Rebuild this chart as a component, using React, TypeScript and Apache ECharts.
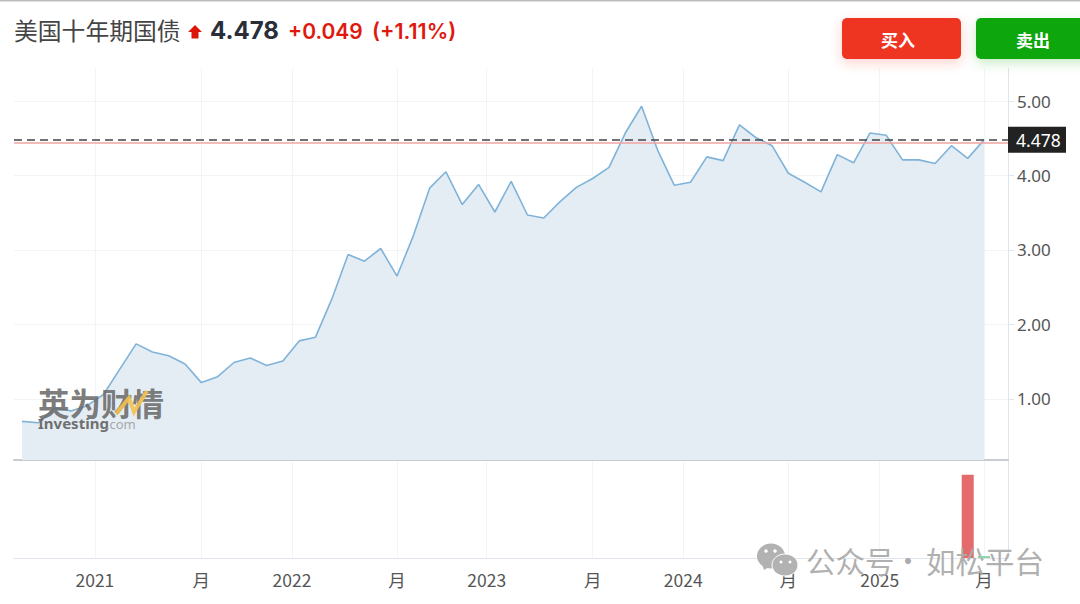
import React, { useEffect, useRef } from "react";
import * as echarts from "echarts";

const monthlyYields = [
  0.7, 0.68, 0.88, 0.84, 0.91, 1.06, 1.4, 1.74, 1.63, 1.58, 1.47, 1.22,
  1.3, 1.49, 1.55, 1.45, 1.51, 1.78, 1.83, 2.34, 2.94, 2.85, 3.02, 2.65,
  3.19, 3.83, 4.05, 3.61, 3.88, 3.51, 3.92, 3.47, 3.43, 3.65, 3.84, 3.96,
  4.11, 4.57, 4.93, 4.33, 3.87, 3.91, 4.25, 4.2, 4.68, 4.51, 4.4, 4.03,
  3.91, 3.78, 4.28, 4.17, 4.57, 4.54, 4.21, 4.21, 4.16, 4.4, 4.23, 4.478,
];
const timeTickPositions = [4.47, 11, 16.56, 23, 28.5, 35, 40.55, 47, 52.6, 59];
const timeTickLabels = ["2021", "月", "2022", "月", "2023", "月", "2024", "月", "2025", "月"];
const yieldTicks = [1, 2, 3, 4, 5];
const volumeUp: [number, number][] = [[58, 85]];
const volumeDown: [number, number][] = [[59, 2]];
const currentPrice = 4.478;
const previousClose = 4.44;

const FONT = '"Noto Sans CJK SC", "Noto Sans", sans-serif';
const LATIN = '"Noto Sans", "Noto Sans CJK SC", sans-serif';
const INTER = 'Inter, "Noto Sans", sans-serif';
const X_MIN = -0.49;
const X_MAX = 60.47;

const t = (x: number, y: number, text: string, fontSize: number, fill: string, extra: any = {}) => ({
  type: "text",
  x,
  y,
  z: 50,
  silent: true,
  style: { text, fontSize, fill, fontFamily: FONT, textVerticalAlign: "middle", ...extra },
});

export default function App() {
  const ref = useRef<HTMLDivElement>(null);
  useEffect(() => {
    document.body.style.margin = "0";
    const chart = echarts.init(ref.current!, undefined, { renderer: "svg" });
    const gridLine = { show: true, lineStyle: { color: "#f3f4f6", width: 1 } };
    const xBase = {
      type: "value",
      min: X_MIN,
      max: X_MAX,
      axisTick: { show: false, customValues: timeTickPositions },
      splitLine: gridLine,
    };
    chart.setOption({
      animation: false,
      backgroundColor: "#fff",
      grid: [
        { left: 14, right: 72, top: 68, height: 392 },
        { left: 14, right: 72, top: 460, height: 98 },
      ],
      xAxis: [
        {
          ...xBase,
          gridIndex: 0,
          axisLabel: { show: false, customValues: timeTickPositions },
          axisLine: { show: true, onZero: false, lineStyle: { color: "#c9ccd1", width: 2 } },
        },
        {
          ...xBase,
          gridIndex: 1,
          axisLine: { show: true, onZero: false, lineStyle: { color: "#e0e4ec", width: 1 } },
          axisLabel: {
            show: true,
            customValues: timeTickPositions,
            color: "#555",
            fontSize: 17.5,
            fontFamily: FONT,
            margin: 13,
            hideOverlap: false,
            formatter: (v: number) => {
              const i = timeTickPositions.findIndex((p) => Math.abs(p - v) < 0.01);
              return i >= 0 ? timeTickLabels[i] : "";
            },
          },
        },
      ],
      yAxis: [
        {
          type: "value",
          gridIndex: 0,
          position: "right",
          min: 0.181,
          max: 5.443,
          axisLine: { show: true, onZero: false, lineStyle: { color: "#e0e4ec" } },
          axisTick: { show: true, length: 6, customValues: yieldTicks, lineStyle: { color: "#e0e4ec" } },
          axisLabel: {
            customValues: yieldTicks,
            color: "#555",
            fontSize: 17,
            margin: 9,
            fontFamily: LATIN,
            formatter: (v: number) => v.toFixed(2),
          },
          splitLine: gridLine,
        },
        {
          type: "value",
          gridIndex: 1,
          position: "right",
          min: 0,
          max: 100,
          axisLine: { show: true, onZero: false, lineStyle: { color: "#e0e4ec" } },
          axisTick: { show: false },
          axisLabel: { show: false },
          splitLine: { show: false },
        },
      ],
      series: [
        {
          type: "line",
          xAxisIndex: 0,
          yAxisIndex: 0,
          data: monthlyYields.map((v, i) => [i, v]),
          showSymbol: false,
          lineStyle: { color: "#7fb3d9", width: 1.6 },
          areaStyle: { color: "#e4edf4", opacity: 1, origin: "start" },
          markLine: {
            silent: true,
            symbol: "none",
            animation: false,
            data: [
              {
                yAxis: previousClose,
                lineStyle: { color: "#f2a3a3", type: "solid", width: 1.5 },
                label: { show: false },
              },
              {
                yAxis: currentPrice,
                lineStyle: { color: "#444", type: [8, 5], width: 1.5 },
                label: {
                  show: true,
                  position: "end",
                  distance: 0,
                  formatter: currentPrice.toFixed(3),
                  color: "#fff",
                  backgroundColor: "#222",
                  fontSize: 17.5,
                  fontFamily: LATIN,
                  padding: [3, 4, 3, 8],
                  width: 46,
                  height: 20,
                  lineHeight: 20,
                  align: "left",
                },
              },
            ],
          },
        },
        {
          type: "bar",
          xAxisIndex: 1,
          yAxisIndex: 1,
          data: volumeUp,
          barWidth: 12,
          barGap: "-100%",
          itemStyle: { color: "#e46a6c" },
        },
        {
          type: "bar",
          xAxisIndex: 1,
          yAxisIndex: 1,
          z: 60,
          data: volumeDown,
          barWidth: 12,
          itemStyle: { color: "#8ed4ab" },
        },
      ],
      graphic: [
        { type: "rect", shape: { x: 0, y: 0, width: 1080, height: 1.5 }, style: { fill: "#bdbdbd" }, z: 50 },
        t(14, 29.5, "美国十年期国债", 23.8, "#444"),
        {
          type: "polygon",
          z: 50,
          shape: { points: [[195, 25], [202, 32], [198.5, 32], [198.5, 38.5], [191.5, 38.5], [191.5, 32], [188, 32]] },
          style: { fill: "#dd1508" },
        },
        t(210, 30.5, "4.478", 24, "#2a2e39", { fontWeight: 700, fontFamily: INTER }),
        t(288, 31, "+0.049", 21, "#e0190e", { fontWeight: 600, fontFamily: INTER }),
        t(372, 31, "(+1.11%)", 21.5, "#e0190e", { fontWeight: 600, fontFamily: INTER }),
        {
          type: "rect",
          z: 50,
          shape: { x: 842, y: 18, width: 119, height: 41, r: 5 },
          style: { fill: "#ee3524", shadowBlur: 12, shadowColor: "rgba(238,53,36,0.22)", shadowOffsetY: 4 },
        },
        {
          type: "rect",
          z: 50,
          shape: { x: 976, y: 18, width: 120, height: 41, r: 5 },
          style: { fill: "#0aa60a", shadowBlur: 12, shadowColor: "rgba(10,166,10,0.22)", shadowOffsetY: 4 },
        },
        t(881, 39.5, "买入", 17, "#fff", { fontWeight: 700 }),
        t(1016, 39.5, "卖出", 17, "#fff", { fontWeight: 700 }),
        t(38, 402, "英为财情", 31.5, "#6b6b6b", { fontWeight: 700, opacity: 0.9 }),
        {
          type: "polyline",
          z: 51,
          shape: { points: [[116, 414], [129, 398], [134, 412], [147, 391]] },
          style: { stroke: "#f3c04d", lineWidth: 4, fill: "none", opacity: 0.9 },
        },
        t(38, 423, "Investing", 15, "#6f6f6f", { fontWeight: 700, fontFamily: LATIN }),
        t(106, 424, ".com", 13, "#a8a8a8", { fontFamily: LATIN }),
        { type: "ellipse", z: 50, shape: { cx: 771, cy: 556, rx: 14, ry: 12.5 }, style: { fill: "#b2b2b2" } },
        { type: "polygon", z: 50, shape: { points: [[762, 564], [764, 570], [771, 566]] }, style: { fill: "#b2b2b2" } },
        { type: "ellipse", z: 51, shape: { cx: 785, cy: 565, rx: 13, ry: 11 }, style: { fill: "#b2b2b2", stroke: "#fff", lineWidth: 1 } },
        { type: "circle", z: 52, shape: { cx: 766, cy: 551, r: 1.8 }, style: { fill: "#fff" } },
        { type: "circle", z: 52, shape: { cx: 775, cy: 551, r: 1.8 }, style: { fill: "#fff" } },
        { type: "circle", z: 52, shape: { cx: 781, cy: 562, r: 1.5 }, style: { fill: "#fff" } },
        { type: "circle", z: 52, shape: { cx: 790, cy: 562, r: 1.5 }, style: { fill: "#fff" } },
        t(806, 560, "公众号", 29.5, "#ababab", { opacity: 0.95 }),
        t(894, 560, "·", 28, "#ababab"),
        t(926, 560, "如松平台", 29.5, "#ababab", { opacity: 0.95 }),
      ],
    });
    return () => chart.dispose();
  }, []);
  return <div ref={ref} style={{ position: "fixed", left: 0, top: 0, width: 1080, height: 604 }} />;
}
